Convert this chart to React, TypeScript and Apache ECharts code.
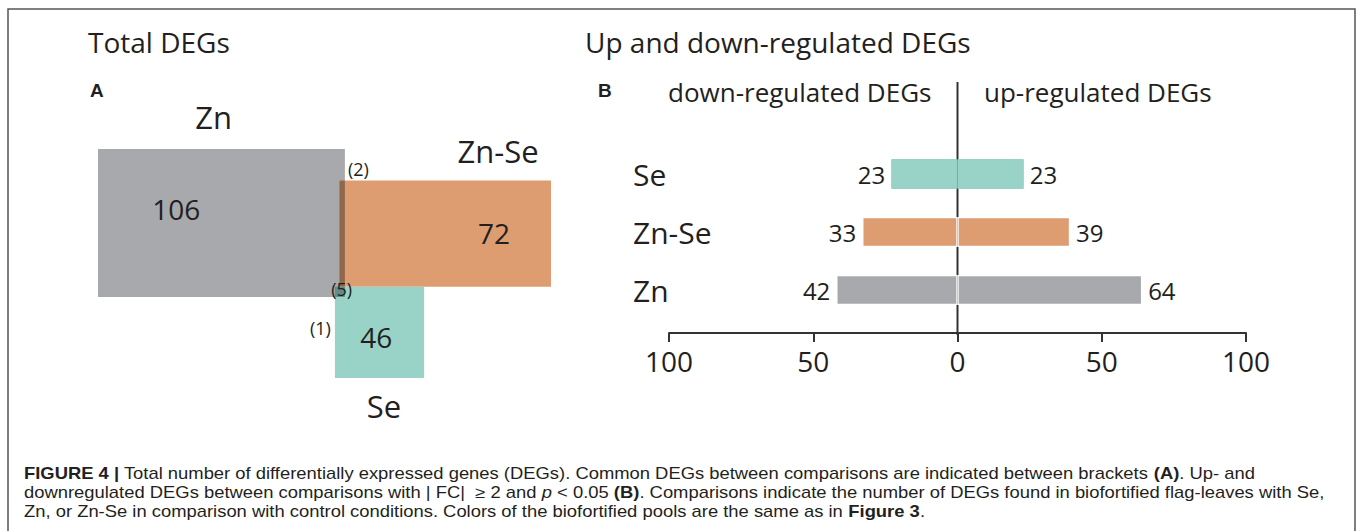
import React, { useEffect, useRef } from "react";
import * as echarts from "echarts";

// ---------- Panel A: total DEGs (box diagram) ----------
const vennSets = ["Zn", "Zn-Se", "Se"];
const vennTotals = [106, 72, 46];
const vennShared = ["(2)", "(5)", "(1)"];
const vennColors = ["#a7a9ac", "#dd9d70", "#99d3c8"];
// box extents in diagram units [x0, x1, y0, y1]
const vennBoxes = [
  [0, 54.5, 0, 64.6],
  [53.3, 100, 13.8, 60.1],
  [52.3, 72.0, 60.1, 100],
];
const setLabelPos = [[25.5, -14], [88.3, 0.9], [63.1, 112.2]];
const totalLabelPos = [[17.3, 26.2], [87.4, 36.7], [61.4, 82.1]];
const sharedLabelPos = [[57.5, 8.7], [53.8, 61.1], [49.1, 78.2]];

// ---------- Panel B: up / down regulated ----------
const categories = ["Zn", "Zn-Se", "Se"];
const downDEGs = [42, 33, 23];
const upDEGs = [64, 39, 23];
const barColors = ["#a7a9ac", "#dd9d70", "#99d3c8"];
const axisMin = -100;
const axisMax = 100;
const axisStep = 50;

const FONT = "'Open Sans', 'Noto Sans', sans-serif";
const CAP_FONT = "'Liberation Sans Narrow', 'Liberation Sans', Arial, sans-serif";
const CAP_SIZE = 16;
const CAP_STRETCH = 1.15;
const INK = "#231f20";

function hexToRgb(h: string) {
  const n = parseInt(h.slice(1), 16);
  return [(n >> 16) & 255, (n >> 8) & 255, n & 255];
}
function multiply(a: string, b: string) {
  const A = hexToRgb(a);
  const B = hexToRgb(b);
  const c = A.map((v, i) => Math.round((v * B[i]) / 255));
  return "rgb(" + c.join(",") + ")";
}

export default function App() {
  const ref = useRef<HTMLDivElement>(null);
  useEffect(() => {
    if (!ref.current) return;
    const chart = echarts.init(ref.current, null, { renderer: "svg" });

    // boxes + pairwise overlaps
    const rects: number[][] = [];
    const rectColors: string[] = [];
    vennBoxes.forEach((b, i) => {
      rects.push(b);
      rectColors.push(vennColors[i]);
    });
    for (let i = 0; i < vennBoxes.length; i++) {
      for (let j = i + 1; j < vennBoxes.length; j++) {
        const a = vennBoxes[i];
        const b = vennBoxes[j];
        const x0 = Math.max(a[0], b[0]);
        const x1 = Math.min(a[1], b[1]);
        const y0 = Math.max(a[2], b[2]);
        const y1 = Math.min(a[3], b[3]);
        if (x1 > x0 && y1 > y0) {
          rects.push([x0, x1, y0, y1]);
          rectColors.push(multiply(vennColors[i], vennColors[j]));
        }
      }
    }

    const textItems: { text: string; size: number }[] = [];
    const textPos: number[][] = [];
    vennSets.forEach((s, i) => {
      textItems.push({ text: s, size: 31 });
      textPos.push(setLabelPos[i]);
    });
    vennTotals.forEach((v, i) => {
      textItems.push({ text: String(v), size: 28 });
      textPos.push(totalLabelPos[i]);
    });
    vennShared.forEach((s, i) => {
      textItems.push({ text: s, size: 18 });
      textPos.push(sharedLabelPos[i]);
    });

    const gapItem = (i: number) => categories[i] !== "Se";
    const barStyle = (i: number) => ({
      color: barColors[i],
      borderColor: gapItem(i) ? "#ffffff" : barColors[i],
      borderWidth: gapItem(i) ? 1.2 : 1,
    });

    const valueLabel = (pos: string) => ({
      show: true,
      position: pos,
      distance: 6,
      formatter: (p: any) => String(Math.abs(p.value)),
      fontSize: 24,
      fontFamily: FONT,
      color: INK,
    });

    const title = (text: string, x: number, y: number, size: number, bold = false, family = FONT) => ({
      type: "text",
      x,
      y,
      silent: true,
      style: {
        text,
        fontSize: size,
        fontFamily: family,
        fontWeight: bold ? "bold" : "normal",
        fill: INK,
        align: "left",
        verticalAlign: "middle",
      },
    });

    const capRich = {
      b: { fontWeight: "bold", fontSize: CAP_SIZE, fontFamily: CAP_FONT, fill: INK },
      i: { fontStyle: "italic", fontSize: CAP_SIZE, fontFamily: CAP_FONT, fill: INK },
    };
    const capLine = (text: string, y: number) => ({
      type: "text",
      x: 24,
      y,
      scaleX: CAP_STRETCH,
      silent: true,
      style: {
        text,
        rich: capRich,
        fontSize: CAP_SIZE,
        fontFamily: CAP_FONT,
        fill: INK,
        align: "left",
        verticalAlign: "middle",
      },
    });

    chart.setOption({
      animation: false,
      backgroundColor: "#ffffff",
      grid: [
        { left: 98, top: 149, width: 453, height: 229 },
        { left: 669, top: 145, width: 577, height: 174 },
        { left: 669, top: 82, width: 577, height: 253 },
      ],
      xAxis: [
        { gridIndex: 0, type: "value", min: 0, max: 100, show: false },
        {
          gridIndex: 1,
          type: "value",
          min: axisMin,
          max: axisMax,
          interval: axisStep,
          offset: 14,
          axisLine: { show: true, onZero: false, lineStyle: { color: "#333", width: 2 } },
          axisTick: { show: true, length: 9, lineStyle: { color: "#333", width: 2 } },
          axisLabel: {
            fontSize: 28,
            fontFamily: FONT,
            color: INK,
            margin: 14,
            formatter: (v: number) => String(Math.abs(v)),
          },
          splitLine: { show: false },
        },
        { gridIndex: 2, type: "value", min: axisMin, max: axisMax, show: false },
      ],
      yAxis: [
        { gridIndex: 0, type: "value", min: 0, max: 100, inverse: true, show: false },
        {
          gridIndex: 1,
          type: "category",
          data: categories,
          axisLine: { show: false },
          axisTick: { show: false },
          axisLabel: {
            fontSize: 30,
            fontFamily: FONT,
            color: INK,
            align: "left",
            margin: 36,
          },
        },
        { gridIndex: 2, type: "value", min: 0, max: 1, show: false },
      ],
      series: [
        {
          type: "custom",
          xAxisIndex: 0,
          yAxisIndex: 0,
          silent: true,
          data: rects,
          renderItem: (params: any, api: any) => {
            const p0 = api.coord([api.value(0), api.value(2)]);
            const p1 = api.coord([api.value(1), api.value(3)]);
            return {
              type: "rect",
              shape: {
                x: Math.min(p0[0], p1[0]),
                y: Math.min(p0[1], p1[1]),
                width: Math.abs(p1[0] - p0[0]),
                height: Math.abs(p1[1] - p0[1]),
              },
              style: { fill: rectColors[params.dataIndex] },
            };
          },
          z: 1,
        },
        {
          type: "custom",
          xAxisIndex: 0,
          yAxisIndex: 0,
          silent: true,
          data: textPos,
          renderItem: (params: any, api: any) => {
            const p = api.coord([api.value(0), api.value(1)]);
            const t = textItems[params.dataIndex];
            return {
              type: "text",
              x: p[0],
              y: p[1],
              style: {
                text: t.text,
                fontSize: t.size,
                fontFamily: FONT,
                fill: INK,
                align: "center",
                verticalAlign: "middle",
              },
            };
          },
          z: 5,
        },
        {
          type: "line",
          xAxisIndex: 2,
          yAxisIndex: 2,
          data: [[0, 0], [0, 1]],
          symbol: "none",
          silent: true,
          lineStyle: { color: "#333", width: 2 },
          z: 1,
        },
        {
          type: "bar",
          name: "down",
          xAxisIndex: 1,
          yAxisIndex: 1,
          stack: "b",
          barWidth: 30,
          data: downDEGs.map((v, i) => ({ value: -v, itemStyle: barStyle(i) })),
          label: valueLabel("left"),
          z: 3,
        },
        {
          type: "bar",
          name: "up",
          xAxisIndex: 1,
          yAxisIndex: 1,
          stack: "b",
          barWidth: 30,
          data: upDEGs.map((v, i) => ({ value: v, itemStyle: barStyle(i) })),
          label: valueLabel("right"),
          z: 3,
        },
      ],
      graphic: [
        {
          type: "polyline",
          silent: true,
          shape: { points: [[8, 540], [8, 9], [1355, 9], [1355, 540]] },
          style: { stroke: "#555", lineWidth: 1.5, fill: null },
        },
        title("Total DEGs", 88, 42, 28),
        title("Up and down-regulated DEGs", 585, 42, 28),
        title("A", 90, 90, 19, true, "'Liberation Sans', Arial, sans-serif"),
        title("B", 598, 90, 19, true, "'Liberation Sans', Arial, sans-serif"),
        title("down-regulated DEGs", 668, 92, 26),
        title("up-regulated DEGs", 984, 92, 26),
        capLine(
          "{b|FIGURE 4 |} Total number of differentially expressed genes (DEGs). Common DEGs between comparisons are indicated between brackets {b|(A)}. Up- and",
          473
        ),
        capLine(
          "downregulated DEGs between comparisons with | FC|  \u2265 2 and {i|p} < 0.05 {b|(B)}. Comparisons indicate the number of DEGs found in biofortified flag-leaves with Se,",
          492
        ),
        capLine(
          "Zn, or Zn-Se in comparison with control conditions. Colors of the biofortified pools are the same as in {b|Figure 3}.",
          511
        ),
      ],
    });
    return () => chart.dispose();
  }, []);
  return (
    <div
      ref={ref}
      style={{ position: "fixed", left: 0, top: 0, width: 1358, height: 531, background: "#fff" }}
    />
  );
}
